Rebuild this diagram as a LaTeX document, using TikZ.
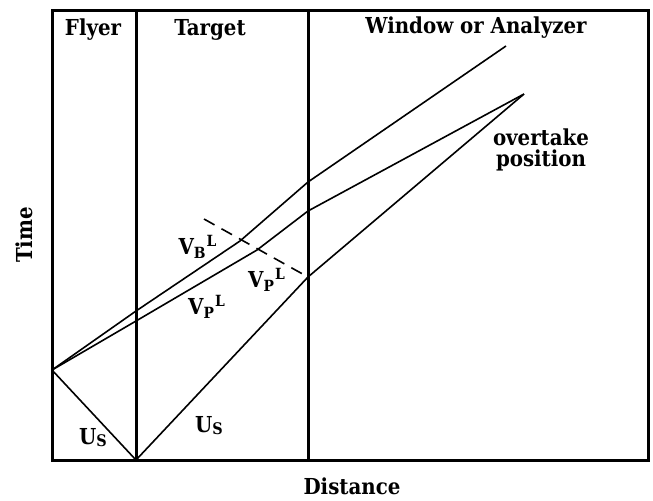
\documentclass[tikz,border=0pt]{standalone}
\usepackage{fontspec}
\setmainfont{DejaVu Serif Condensed}

\begin{document}
\begin{tikzpicture}[
    x=0.5pt, y=-0.5pt,
    wall/.style={line width=1.5pt},
    ray/.style={line width=0.8pt},
    lbl/.style={font=\fontsize{11}{10.5}\selectfont\bfseries, inner sep=0pt}
]
    \useasboundingbox (0,0) rectangle (653,500);

    % Define wall positions
    \def\xleft{52};
    \def\xtarget{136};
    \def\xwindow{308};
    \def\xright{648};
    \def\ytop{10};
    \def\ybottom{460};

    % Draw the frame and the interfaces
    \draw[wall] (\xleft,\ytop) rectangle (\xright,\ybottom);
    \draw[wall] (\xtarget,\ytop) -- (\xtarget,\ybottom);
    \draw[wall] (\xwindow,\ytop) -- (\xwindow,\ybottom);

    % Points of the wave diagram
    \coordinate (impact)   at (\xleft,370);
    \coordinate (origin)   at (\xtarget,\ybottom);
    \coordinate (btarget)  at (\xtarget,311);
    \coordinate (ptarget)  at (\xtarget,321);
    \coordinate (bkink)    at (240,241);
    \coordinate (pkink)    at (257,250);
    \coordinate (bwindow)  at (\xwindow,182);
    \coordinate (pwindow)  at (\xwindow,211);
    \coordinate (swindow)  at (\xwindow,277);
    \coordinate (bend)     at (506,46);
    \coordinate (overtake) at (524,94);
    \coordinate (dashstart) at (204,219);

    % Shocks and release waves
    \draw[ray] (impact) -- (origin) -- (swindow) -- (overtake);
    \draw[ray] (impact) -- (btarget) -- (bkink) -- (bwindow) -- (bend);
    \draw[ray] (impact) -- (ptarget) -- (pkink) -- (pwindow) -- (overtake);
    \draw[ray, dash pattern=on 6pt off 4pt] (dashstart) -- (swindow);

    % Labels
    \node[lbl] (flyer)    at (93,30)   {Flyer};
    \node[lbl] (target)   at (210,30)  {Target};
    \node[lbl] (window)   at (476,28)  {Window or Analyzer};
    \node[lbl, align=center] (overtext) at (541,150) {overtake\\position};
    \node[lbl] (vbl)      at (198,247) {V\textsubscript{B}\textsuperscript{L}};
    \node[lbl] (vplup)    at (267,280) {V\textsubscript{P}\textsuperscript{L}};
    \node[lbl] (vpllow)   at (207,307) {V\textsubscript{P}\textsuperscript{L}};
    \node[lbl] (usleft)   at (93,438)  {U\raisebox{-1pt}{\footnotesize S}};
    \node[lbl] (usright)  at (209,426) {U\raisebox{-1pt}{\footnotesize S}};
    \node[lbl, rotate=90] (time) at (24,235) {Time};
    \node[lbl] (distance) at (352,486) {Distance};
\end{tikzpicture}
\end{document}
